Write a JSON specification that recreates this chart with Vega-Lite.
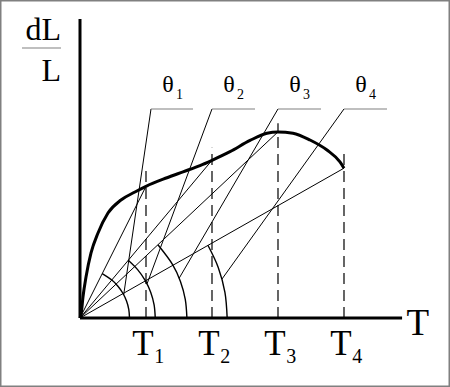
{
  "$schema": "https://vega.github.io/schema/vega-lite/v6.json",
  "width": 450,
  "height": 387,
  "padding": 0,
  "autosize": {"type": "fit", "contains": "padding"},
  "background": "white",
  "view": {"stroke": "#808080", "strokeWidth": 3},
  "config": {"text": {"font": "Liberation Serif", "color": "black"}},
  "datasets": {
    "curve": [
      {"x": 0, "y": 0}, {"x": 0.02, "y": 0.076}, {"x": 0.045, "y": 0.318}, {"x": 0.091, "y": 0.621},
      {"x": 0.167, "y": 0.985}, {"x": 0.273, "y": 1.288}, {"x": 0.424, "y": 1.591}, {"x": 0.621, "y": 1.788},
      {"x": 0.833, "y": 1.909}, {"x": 1.0, "y": 1.995}, {"x": 1.318, "y": 2.125}, {"x": 1.561, "y": 2.215},
      {"x": 1.818, "y": 2.31}, {"x": 2.0, "y": 2.39}, {"x": 2.273, "y": 2.52}, {"x": 2.576, "y": 2.69},
      {"x": 2.833, "y": 2.8}, {"x": 3.0, "y": 2.82}, {"x": 3.227, "y": 2.8}, {"x": 3.485, "y": 2.697},
      {"x": 3.742, "y": 2.545}, {"x": 3.939, "y": 2.364}, {"x": 4.0, "y": 2.27}
    ],
    "segments": [
      {"kind": "axis", "x": 0, "y": 0, "x2": 0, "y2": 4.53},
      {"kind": "axis", "x": 0, "y": 0, "x2": 4.88, "y2": 0},
      {"kind": "ray", "x": 0, "y": 0, "x2": 1, "y2": 1.995},
      {"kind": "ray", "x": 0, "y": 0, "x2": 2, "y2": 2.39},
      {"kind": "ray", "x": 0, "y": 0, "x2": 3, "y2": 2.82},
      {"kind": "ray", "x": 0, "y": 0, "x2": 4, "y2": 2.27},
      {"kind": "leader", "x": 0.662, "y": 0.352, "x2": 1.076, "y2": 3.167},
      {"kind": "leader", "x": 1.016, "y": 0.518, "x2": 2.0, "y2": 3.167},
      {"kind": "leader", "x": 1.503, "y": 0.604, "x2": 3.0, "y2": 3.167},
      {"kind": "leader", "x": 2.152, "y": 0.591, "x2": 4.0, "y2": 3.167},
      {"kind": "underline", "x": 1.076, "y": 3.167, "x2": 1.712, "y2": 3.167},
      {"kind": "underline", "x": 2.0, "y": 3.167, "x2": 2.652, "y2": 3.167},
      {"kind": "underline", "x": 3.0, "y": 3.167, "x2": 3.652, "y2": 3.167},
      {"kind": "underline", "x": 4.0, "y": 3.167, "x2": 4.652, "y2": 3.167},
      {"kind": "underline", "x": -0.879, "y": 4.091, "x2": -0.288, "y2": 4.091},
      {"kind": "dash", "x": 1, "y": 0, "x2": 1, "y2": 2.29},
      {"kind": "dash", "x": 2, "y": 0, "x2": 2, "y2": 2.58},
      {"kind": "dash", "x": 3, "y": 0, "x2": 3, "y2": 2.95},
      {"kind": "dash", "x": 4, "y": 0, "x2": 4, "y2": 2.5}
    ],
    "arcs": [
      {"arc": 1, "i": 0, "x": 0.75, "y": 0}, {"arc": 1, "i": 1, "x": 0.739, "y": 0.13},
      {"arc": 1, "i": 2, "x": 0.705, "y": 0.257}, {"arc": 1, "i": 3, "x": 0.65, "y": 0.375},
      {"arc": 1, "i": 4, "x": 0.575, "y": 0.482}, {"arc": 1, "i": 5, "x": 0.482, "y": 0.575},
      {"arc": 1, "i": 6, "x": 0.336, "y": 0.671},
      {"arc": 2, "i": 0, "x": 1.14, "y": 0}, {"arc": 2, "i": 1, "x": 1.123, "y": 0.198},
      {"arc": 2, "i": 2, "x": 1.071, "y": 0.39}, {"arc": 2, "i": 3, "x": 0.987, "y": 0.57},
      {"arc": 2, "i": 4, "x": 0.873, "y": 0.733}, {"arc": 2, "i": 5, "x": 0.731, "y": 0.875},
      {"arc": 3, "i": 0, "x": 1.62, "y": 0}, {"arc": 3, "i": 1, "x": 1.595, "y": 0.281},
      {"arc": 3, "i": 2, "x": 1.522, "y": 0.554}, {"arc": 3, "i": 3, "x": 1.403, "y": 0.81},
      {"arc": 3, "i": 4, "x": 1.181, "y": 1.109},
      {"arc": 4, "i": 0, "x": 2.23, "y": 0}, {"arc": 4, "i": 1, "x": 2.196, "y": 0.387},
      {"arc": 4, "i": 2, "x": 2.096, "y": 0.763}, {"arc": 4, "i": 3, "x": 1.938, "y": 1.102}
    ],
    "labels": [
      {"kind": "frac", "x": -0.288, "y": 4.212, "t": "dL"},
      {"kind": "frac", "x": -0.288, "y": 3.591, "t": "L"},
      {"kind": "axisT", "x": 5.12, "y": -0.258, "t": "T"},
      {"kind": "T", "x": 0.955, "y": -0.561, "t": "T"},
      {"kind": "T", "x": 1.955, "y": -0.561, "t": "T"},
      {"kind": "T", "x": 2.955, "y": -0.561, "t": "T"},
      {"kind": "T", "x": 3.955, "y": -0.561, "t": "T"},
      {"kind": "Tsub", "x": 1.2, "y": -0.682, "t": "1"},
      {"kind": "Tsub", "x": 2.2, "y": -0.682, "t": "2"},
      {"kind": "Tsub", "x": 3.2, "y": -0.682, "t": "3"},
      {"kind": "Tsub", "x": 4.2, "y": -0.682, "t": "4"},
      {"kind": "th", "x": 1.334, "y": 3.424, "t": "θ"},
      {"kind": "th", "x": 2.258, "y": 3.424, "t": "θ"},
      {"kind": "th", "x": 3.258, "y": 3.424, "t": "θ"},
      {"kind": "th", "x": 4.258, "y": 3.424, "t": "θ"},
      {"kind": "thsub", "x": 1.508, "y": 3.318, "t": "1"},
      {"kind": "thsub", "x": 2.432, "y": 3.318, "t": "2"},
      {"kind": "thsub", "x": 3.432, "y": 3.318, "t": "3"},
      {"kind": "thsub", "x": 4.432, "y": 3.318, "t": "4"}
    ]
  },
  "encoding": {
    "x": {"field": "x", "type": "quantitative", "axis": null, "scale": {"domain": [-1.2121, 5.6061], "nice": false, "zero": false}},
    "y": {"field": "y", "type": "quantitative", "axis": null, "scale": {"domain": [-1.04545, 4.81818], "nice": false, "zero": false}}
  },
  "layer": [
    {
      "data": {"name": "segments"},
      "transform": [{"filter": "datum.kind === 'dash'"}],
      "mark": {"type": "rule", "color": "black", "strokeWidth": 1.2, "strokeDash": [11, 6]},
      "encoding": {"x2": {"field": "x2"}, "y2": {"field": "y2"}}
    },
    {
      "data": {"name": "segments"},
      "transform": [{"filter": "datum.kind === 'ray' || datum.kind === 'leader'"}],
      "mark": {"type": "rule", "color": "black", "strokeWidth": 1},
      "encoding": {"x2": {"field": "x2"}, "y2": {"field": "y2"}}
    },
    {
      "data": {"name": "segments"},
      "transform": [{"filter": "datum.kind === 'underline'"}],
      "mark": {"type": "rule", "color": "#808080", "strokeWidth": 1.2},
      "encoding": {"x2": {"field": "x2"}, "y2": {"field": "y2"}}
    },
    {
      "data": {"name": "arcs"},
      "mark": {"type": "line", "color": "black", "strokeWidth": 1.4, "interpolate": "cardinal"},
      "encoding": {"detail": {"field": "arc"}, "order": {"field": "i"}}
    },
    {
      "data": {"name": "curve"},
      "mark": {"type": "line", "color": "black", "strokeWidth": 3, "interpolate": "monotone"}
    },
    {
      "data": {"name": "segments"},
      "transform": [{"filter": "datum.kind === 'axis'"}],
      "mark": {"type": "rule", "color": "black", "strokeWidth": 3},
      "encoding": {"x2": {"field": "x2"}, "y2": {"field": "y2"}}
    },
    {
      "data": {"name": "labels"},
      "transform": [{"filter": "datum.kind === 'frac'"}],
      "mark": {"type": "text", "fontSize": 32, "align": "right", "baseline": "alphabetic"},
      "encoding": {"text": {"field": "t"}}
    },
    {
      "data": {"name": "labels"},
      "transform": [{"filter": "datum.kind === 'axisT'"}],
      "mark": {"type": "text", "fontSize": 37, "align": "center", "baseline": "alphabetic"},
      "encoding": {"text": {"field": "t"}}
    },
    {
      "data": {"name": "labels"},
      "transform": [{"filter": "datum.kind === 'T'"}],
      "mark": {"type": "text", "fontSize": 35, "align": "center", "baseline": "alphabetic"},
      "encoding": {"text": {"field": "t"}}
    },
    {
      "data": {"name": "labels"},
      "transform": [{"filter": "datum.kind === 'Tsub'"}],
      "mark": {"type": "text", "fontSize": 20, "align": "center", "baseline": "alphabetic"},
      "encoding": {"text": {"field": "t"}}
    },
    {
      "data": {"name": "labels"},
      "transform": [{"filter": "datum.kind === 'th'"}],
      "mark": {"type": "text", "fontSize": 24, "align": "center", "baseline": "alphabetic"},
      "encoding": {"text": {"field": "t"}}
    },
    {
      "data": {"name": "labels"},
      "transform": [{"filter": "datum.kind === 'thsub'"}],
      "mark": {"type": "text", "fontSize": 14, "align": "center", "baseline": "alphabetic"},
      "encoding": {"text": {"field": "t"}}
    }
  ]
}
